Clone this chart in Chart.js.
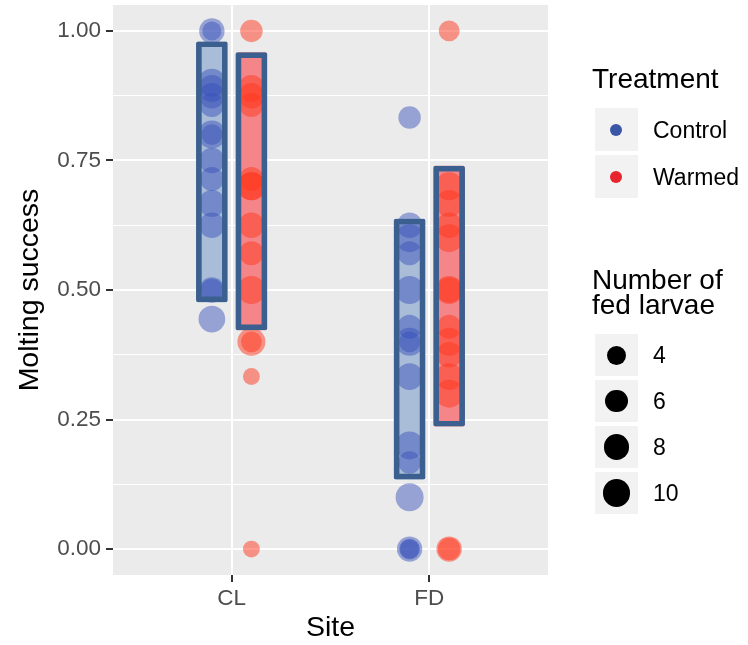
<!DOCTYPE html>
<html>
<head>
<meta charset="utf-8">
<script src="https://cdn.jsdelivr.net/npm/chart.js@4"></script>
<style>
  body { margin: 0; background: #fff; font-family: "Liberation Sans", Arial, Helvetica, sans-serif; }
  #wrap { position: relative; width: 748px; height: 645px; }
  .lg { position: absolute; color: #000; white-space: nowrap; }
  .lg-title { font-size: 28px; line-height: 25.2px; }
  .lg-text { font-size: 23px; line-height: 23px; }
  .key { position: absolute; background: #f2f2f2; }
  .dot { position: absolute; border-radius: 50%; }
</style>
</head>
<body>
<div id="wrap">
  <canvas id="chart" width="748" height="645"></canvas>
</div>
<script>
const sites = ['CL', 'FD'];
const treatments = ['Control', 'Warmed'];
const yTicks = [0, 0.25, 0.5, 0.75, 1];
const yTickLabels = ['0.00', '0.25', '0.50', '0.75', '1.00'];
const sizeBreaks = [4, 6, 8, 10];

// molting success per larva group, and how many larvae were fed
const clControlSuccess = [1.0, 1.0, 0.9, 0.889, 0.875, 0.857, 0.8, 0.8, 0.75, 0.714, 0.667, 0.625, 0.5, 0.5, 0.444];
const clControlLarvae  = [8, 4, 10, 9, 8, 7, 10, 5, 8, 7, 9, 8, 8, 6, 9];
const clWarmedSuccess  = [1.0, 0.889, 0.875, 0.857, 0.714, 0.7, 0.7, 0.625, 0.571, 0.5, 0.4, 0.4, 0.333, 0.0];
const clWarmedLarvae   = [6, 9, 8, 7, 7, 10, 10, 8, 7, 10, 10, 5, 3, 3];
const fdControlSuccess = [0.833, 0.625, 0.6, 0.571, 0.5, 0.429, 0.4, 0.4, 0.333, 0.2, 0.167, 0.1, 0.0, 0.0, 0.0];
const fdControlLarvae  = [6, 8, 10, 7, 10, 7, 10, 5, 9, 10, 6, 10, 8, 5, 4];
const fdWarmedSuccess  = [1.0, 0.7, 0.667, 0.625, 0.6, 0.5, 0.5, 0.429, 0.4, 0.375, 0.333, 0.3, 0.0, 0.0];
const fdWarmedLarvae   = [5, 10, 9, 8, 10, 10, 8, 7, 10, 8, 9, 10, 8, 6];

// crossbar ranges per site (CL, FD)
const controlLow  = [0.477, 0.135];
const controlHigh = [0.979, 0.637];
const warmedLow   = [0.423, 0.237];
const warmedHigh  = [0.958, 0.739];

const dodge = { Control: -0.1, Warmed: 0.1 };
const pointColors = { Control: 'rgba(55,80,185,0.47)', Warmed: 'rgba(255,55,30,0.5)' };
const keyColors = { Control: '#3a56a6', Warmed: '#e8242f' };
const boxFill = { Control: '#a9bcd8', Warmed: '#f4868a' };
const boxBorder = '#3b5f8f';
const font = '"Liberation Sans", Arial, Helvetica, sans-serif';

function larvaeRadius(n) {
  return 3.87 * Math.sqrt(n) + 1.76;
}

function pointsFor(treatment, groups) {
  const out = [];
  groups.forEach((g, si) => {
    g[0].forEach((v, i) => out.push({ x: si + 1 + dodge[treatment], y: v, n: g[1][i] }));
  });
  return out;
}

function boxesFor(treatment, low, high) {
  return sites.map((s, si) => ({ x: si + 1 + dodge[treatment], y: [low[si], high[si]] }));
}

const controlPoints = pointsFor('Control', [[clControlSuccess, clControlLarvae], [fdControlSuccess, fdControlLarvae]]);
const warmedPoints = pointsFor('Warmed', [[clWarmedSuccess, clWarmedLarvae], [fdWarmedSuccess, fdWarmedLarvae]]);

// ticks incl. minor grid positions halfway between the labelled ones
const allYTicks = [];
yTicks.forEach((v, i) => {
  allYTicks.push(v);
  if (i < yTicks.length - 1) allYTicks.push((v + yTicks[i + 1]) / 2);
});

const panelBg = {
  id: 'panelBg',
  beforeDraw(chart) {
    const { ctx, chartArea: a } = chart;
    ctx.save();
    ctx.fillStyle = '#ebebeb';
    ctx.fillRect(a.left, a.top, a.width, a.height);
    ctx.restore();
  }
};

function scatterSet(t, data) {
  return {
    type: 'scatter',
    label: t,
    data: data,
    order: 1,
    backgroundColor: pointColors[t],
    borderWidth: 0,
    pointRadius: ctx => larvaeRadius(ctx.raw.n),
    pointHoverRadius: ctx => larvaeRadius(ctx.raw.n)
  };
}

function boxSet(t, low, high, fill, border) {
  return {
    type: 'bar',
    label: t,
    data: boxesFor(t, low, high),
    order: border ? 0 : 2,
    grouped: false,
    barThickness: 31,
    backgroundColor: border ? 'rgba(0,0,0,0)' : fill,
    borderColor: border ? boxBorder : 'rgba(0,0,0,0)',
    borderWidth: border ? 5 : 0,
    borderSkipped: false,
    borderRadius: 2
  };
}

new Chart(document.getElementById('chart'), {
  type: 'scatter',
  data: {
    datasets: [
      boxSet('Control', controlLow, controlHigh, boxFill.Control, true),
      boxSet('Warmed', warmedLow, warmedHigh, boxFill.Warmed, true),
      scatterSet('Control', controlPoints),
      scatterSet('Warmed', warmedPoints),
      boxSet('Control', controlLow, controlHigh, boxFill.Control, false),
      boxSet('Warmed', warmedLow, warmedHigh, boxFill.Warmed, false)
    ]
  },
  options: {
    responsive: false,
    animation: false,
    layout: { autoPadding: false, padding: { left: 0, top: 5, right: 200, bottom: 0 } },
    plugins: { legend: { display: false }, tooltip: { enabled: false } },
    scales: {
      x: {
        type: 'linear',
        offset: false,
        min: 0.4,
        max: 2.6,
        afterBuildTicks: s => { s.ticks = sites.map((_, i) => ({ value: i + 1 })); },
        afterFit: s => { s.height = 70; s.paddingLeft = 0; s.paddingRight = 0; },
        border: { display: false },
        grid: { offset: false, color: '#ffffff', lineWidth: 2, tickColor: '#333333', tickLength: 7, tickWidth: 2 },
        ticks: {
          autoSkip: false,
          maxRotation: 0,
          padding: 3,
          color: '#4d4d4d',
          font: { family: font, size: 22.5 },
          callback: v => sites[Math.round(v) - 1]
        },
        title: { display: true, text: 'Site', color: '#000', font: { family: font, size: 28.5 }, padding: { top: 0, bottom: 0 } }
      },
      y: {
        type: 'linear',
        min: -0.05,
        max: 1.05,
        afterBuildTicks: s => { s.ticks = allYTicks.map(v => ({ value: v })); },
        afterFit: s => { s.width = 113; s.paddingTop = 0; s.paddingBottom = 0; },
        border: { display: false },
        grid: {
          color: '#ffffff',
          lineWidth: c => (yTicks.includes(c.tick.value) ? 2 : 1),
          tickColor: c => (yTicks.includes(c.tick.value) ? '#333333' : 'rgba(0,0,0,0)'),
          tickLength: 7,
          tickWidth: 2
        },
        ticks: {
          autoSkip: false,
          padding: 5,
          color: '#4d4d4d',
          font: { family: font, size: 22.5 },
          callback: v => {
            const i = yTicks.indexOf(v);
            return i >= 0 ? yTickLabels[i] : '';
          }
        },
        title: { display: true, text: 'Molting success', color: '#000', font: { family: font, size: 28.5 }, padding: { top: 13, bottom: 0 } }
      }
    }
  },
  plugins: [panelBg]
});

// legend, built as html text next to the canvas
const wrap = document.getElementById('wrap');
function add(cls, css, text) {
  const d = document.createElement('div');
  d.className = cls;
  Object.assign(d.style, css);
  if (text !== undefined) d.textContent = text;
  wrap.appendChild(d);
  return d;
}

add('lg lg-title', { left: '592px', top: '66px' }, 'Treatment');
treatments.forEach((t, i) => {
  const top = 108 + i * 47;
  add('key', { left: '595px', top: top + 'px', width: '43px', height: '43px' });
  add('dot', { left: '610px', top: (top + 15.5) + 'px', width: '12px', height: '12px', background: keyColors[t] });
  add('lg lg-text', { left: '653px', top: (top + 11) + 'px' }, t);
});

const sizeTitle = add('lg lg-title', { left: '592px', top: '267px' });
sizeTitle.innerHTML = 'Number of<br>fed larvae';
sizeBreaks.forEach((n, i) => {
  const top = 334 + i * 46;
  const d = 2 * larvaeRadius(n);
  add('key', { left: '595px', top: top + 'px', width: '43px', height: '42px' });
  add('dot', { left: (616.5 - d / 2) + 'px', top: (top + 21 - d / 2) + 'px', width: d + 'px', height: d + 'px', background: '#000' });
  add('lg lg-text', { left: '653px', top: (top + 10) + 'px' }, String(n));
});
</script>
</body>
</html>
